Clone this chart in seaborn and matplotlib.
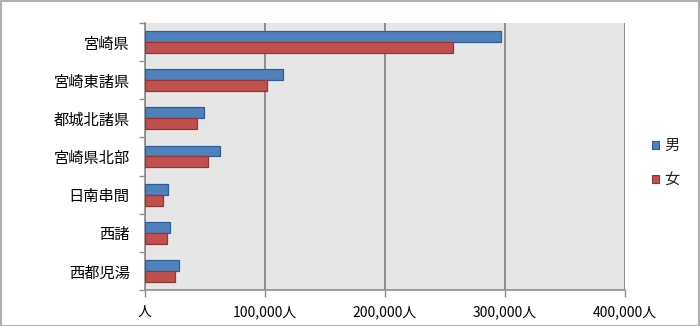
import matplotlib
matplotlib.use("Agg")
import matplotlib.pyplot as plt
from matplotlib.patches import Patch, Rectangle
from matplotlib.ticker import FuncFormatter, FixedLocator
import seaborn as sns
import pandas as pd

# Population by region (persons)
regions = ["宮崎県", "宮崎東諸県", "都城北諸県", "宮崎県北部", "日南串間", "西諸", "西都児湯"]
male = [296700, 115000, 49400, 62800, 18900, 20800, 28600]
female = [256700, 101400, 43300, 52500, 15300, 18300, 25000]
sexes = ["男", "女"]
x_ticks = [0, 100000, 200000, 300000, 400000]

df = pd.DataFrame({
    "地域": regions * 2,
    "人口": male + female,
    "性別": [sexes[0]] * len(regions) + [sexes[1]] * len(regions),
})

sns.set_theme(style="white")
plt.rcParams["font.family"] = ["Noto Sans CJK JP", "DejaVu Sans"]

fill = {"男": "#4F81BD", "女": "#C0504D"}
edge = {"男": "#2F5F9A", "女": "#963633"}

fig = plt.figure(figsize=(7.0, 3.26), dpi=100)
ax = fig.add_axes([145 / 700, 36 / 326, 480 / 700, 267 / 326])
ax.set_facecolor("#E6E6E6")

sns.barplot(data=df, y="地域", x="人口", hue="性別", order=regions,
            hue_order=sexes, palette=fill, orient="h", width=0.57,
            saturation=1, legend=False, ax=ax, zorder=3)

for container, s in zip(ax.containers, sexes):
    for bar in container:
        bar.set_edgecolor(edge[s])
        bar.set_linewidth(0.9)

ax.set_xlim(0, 400000)
ax.set_ylim(len(regions) - 0.5, -0.5)
ax.xaxis.set_major_locator(FixedLocator(x_ticks))
ax.xaxis.set_major_formatter(FuncFormatter(lambda v, p: "人" if v == 0 else f"{int(v):,}人"))
ax.grid(axis="x", color="#8C8C8C", linewidth=1.4, zorder=1)
ax.set_axisbelow(True)

ax.set_xlabel("")
ax.set_ylabel("")

for side in ["top", "right"]:
    ax.spines[side].set_visible(False)
for side in ["left", "bottom"]:
    ax.spines[side].set_color("#8C8C8C")
    ax.spines[side].set_linewidth(1.2)

ax.tick_params(axis="y", which="major", length=0, pad=11, labelsize=11, colors="#000000")
ax.yaxis.set_minor_locator(FixedLocator([i - 0.5 for i in range(len(regions) + 1)]))
ax.tick_params(axis="y", which="minor", length=4, width=1, color="#8C8C8C", left=True)
ax.tick_params(axis="x", which="major", length=5, width=1, color="#8C8C8C", bottom=True,
               pad=6, labelsize=10, labelcolor="#000000")

handles = [Patch(facecolor=fill[s], edgecolor=edge[s], linewidth=0.8, label=s) for s in sexes]
fig.legend(handles=handles, loc="center left", bbox_to_anchor=(644 / 700, 1 - 163 / 326),
           frameon=False, fontsize=11, handlelength=0.45, handleheight=0.45,
           handletextpad=0.35, labelspacing=1.15, borderpad=0)

fig.patches.append(Rectangle((0.5 / 700, 0.5 / 326), 698.5 / 700, 324.5 / 326, transform=fig.transFigure,
                             fill=False, edgecolor="#AFAFAF", linewidth=1.5))

fig.savefig("out.png", dpi=100)
